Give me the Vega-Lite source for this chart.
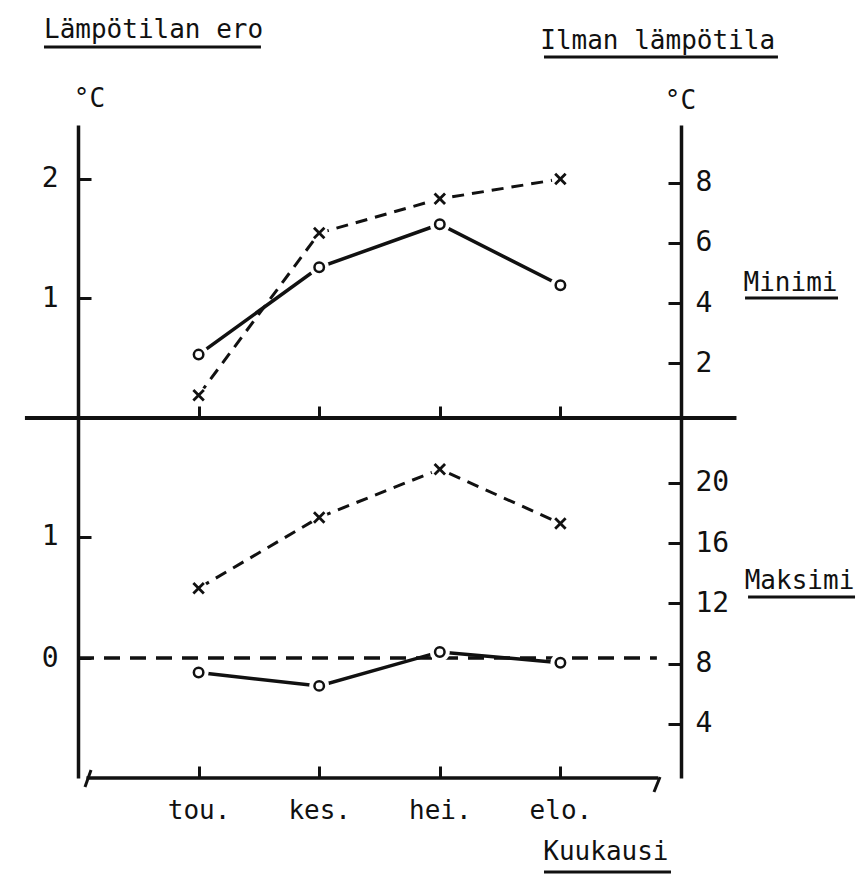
{
  "$schema": "https://vega.github.io/schema/vega-lite/v6.json",
  "background": "white",
  "padding": {"left": 22, "top": 17, "right": 5, "bottom": 0},
  "spacing": 0,
  "bounds": "flush",
  "config": {
    "view": {"stroke": null},
    "axis": {
      "grid": false,
      "domainColor": "#111",
      "domainWidth": 3.5,
      "tickColor": "#111",
      "tickWidth": 3,
      "tickSize": -13,
      "labelFont": "DejaVu Sans Mono",
      "labelFontSize": 28,
      "labelColor": "#111",
      "format": "d",
      "titleFont": "DejaVu Sans Mono",
      "titleFontSize": 26,
      "titleFontWeight": "normal",
      "titleColor": "#111"
    },
    "text": {"font": "DejaVu Sans Mono", "fontSize": 26, "color": "#111"}
  },
  "datasets": {
    "kuukaudet": [
      {"kk": 5, "kuukausi": "tou.", "min_ero": 0.53, "min_temp": 0.93, "max_ero": -0.12, "max_temp": 13.0},
      {"kk": 6, "kuukausi": "kes.", "min_ero": 1.26, "min_temp": 6.33, "max_ero": -0.23, "max_temp": 17.7},
      {"kk": 7, "kuukausi": "hei.", "min_ero": 1.62, "min_temp": 7.47, "max_ero": 0.05, "max_temp": 20.9},
      {"kk": 8, "kuukausi": "elo.", "min_ero": 1.11, "min_temp": 8.13, "max_ero": -0.04, "max_temp": 17.3}
    ]
  },
  "data": {"name": "kuukaudet"},
  "vconcat": [
    {
      "width": 603,
      "height": 293,
      "resolve": {"scale": {"y": "independent"}, "axis": {"y": "independent"}},
      "layer": [
        {
          "layer": [
            {
              "data": {"values": [{}]},
              "mark": {"type": "rule", "color": "#111", "strokeWidth": 4},
              "encoding": {
                "x": {"datum": 3.56, "type": "quantitative"},
                "x2": {"datum": 9.46},
                "y": {"datum": 0, "type": "quantitative"}
              }
            },
            {
              "mark": {"type": "line", "color": "#111", "strokeWidth": 3.5},
              "encoding": {
                "x": {"field": "kk", "type": "quantitative", "scale": {"domain": [4, 9], "nice": false, "zero": false},
                  "axis": {"orient": "bottom", "values": [5, 6, 7, 8], "domain": false, "labels": false, "tickSize": -12,
                    "title": "Minimi", "titleAngle": 0, "titleX": 712, "titleY": -136, "titleAlign": "center", "titleBaseline": "middle"}},
                "y": {"field": "min_ero", "type": "quantitative", "scale": {"domain": [0, 2.45], "nice": false, "zero": false},
                  "axis": {"orient": "left", "values": [1, 2], "labelPadding": 33,
                    "title": "°C", "titleAngle": 0, "titleX": 11, "titleY": -27, "titleAlign": "center", "titleBaseline": "middle"}}
              }
            },
            {
              "mark": {"type": "point", "shape": "circle", "filled": true, "color": "white", "opacity": 1, "size": 400},
              "encoding": {"x": {"field": "kk", "type": "quantitative"}, "y": {"field": "min_ero", "type": "quantitative"}}
            },
            {
              "mark": {"type": "point", "shape": "circle", "filled": false, "color": "#111", "strokeWidth": 2.5, "size": 90, "opacity": 1},
              "encoding": {"x": {"field": "kk", "type": "quantitative"}, "y": {"field": "min_ero", "type": "quantitative"}}
            },
            {
              "data": {"values": [{}]},
              "mark": {"type": "text", "align": "left", "baseline": "middle", "text": "Lämpötilan ero"},
              "encoding": {"x": {"datum": 3.718, "type": "quantitative"}, "y": {"datum": 3.244, "type": "quantitative"}}
            },
            {
              "data": {"values": [{}]},
              "mark": {"type": "rule", "color": "#111", "strokeWidth": 3},
              "encoding": {"x": {"datum": 3.718, "type": "quantitative"}, "x2": {"datum": 5.517}, "y": {"datum": 3.102, "type": "quantitative"}}
            },
            {
              "data": {"values": [{}]},
              "mark": {"type": "text", "align": "right", "baseline": "middle", "text": "Ilman lämpötila"},
              "encoding": {"x": {"datum": 9.78, "type": "quantitative"}, "y": {"datum": 3.152, "type": "quantitative"}}
            },
            {
              "data": {"values": [{}]},
              "mark": {"type": "rule", "color": "#111", "strokeWidth": 3},
              "encoding": {"x": {"datum": 7.864, "type": "quantitative"}, "x2": {"datum": 9.804}, "y": {"datum": 3.018, "type": "quantitative"}}
            },
            {
              "data": {"values": [{}]},
              "mark": {"type": "rule", "color": "#111", "strokeWidth": 3},
              "encoding": {"x": {"datum": 9.531, "type": "quantitative"}, "x2": {"datum": 10.302}, "y": {"datum": 1.003, "type": "quantitative"}}
            }
          ]
        },
        {
          "layer": [
            {
              "mark": {"type": "line", "color": "#111", "strokeWidth": 3, "strokeDash": [12, 8]},
              "encoding": {
                "x": {"field": "kk", "type": "quantitative"},
                "y": {"field": "min_temp", "type": "quantitative", "scale": {"domain": [0.17, 9.93], "nice": false, "zero": false},
                  "axis": {"orient": "right", "values": [2, 4, 6, 8], "labelPadding": 27,
                    "title": "°C", "titleAngle": 0, "titleX": -1, "titleY": -25, "titleAlign": "center", "titleBaseline": "middle"}}
              }
            },
            {
              "mark": {"type": "point", "shape": "circle", "filled": true, "color": "white", "opacity": 1, "size": 300},
              "encoding": {"x": {"field": "kk", "type": "quantitative"}, "y": {"field": "min_temp", "type": "quantitative"}}
            },
            {
              "mark": {"type": "point", "shape": "M-1,-1L1,1M1,-1L-1,1", "filled": false, "color": "#111", "strokeWidth": 2.8, "size": 110, "opacity": 1},
              "encoding": {"x": {"field": "kk", "type": "quantitative"}, "y": {"field": "min_temp", "type": "quantitative"}}
            }
          ]
        }
      ]
    },
    {
      "width": 603,
      "height": 360,
      "resolve": {"scale": {"y": "independent"}, "axis": {"y": "independent"}},
      "layer": [
        {
          "layer": [
            {
              "data": {"values": [{}]},
              "mark": {"type": "rule", "color": "#111", "strokeWidth": 3.5},
              "encoding": {"x": {"datum": 4.07, "type": "quantitative"}, "x2": {"datum": 8.81}, "y": {"datum": -0.99, "type": "quantitative"}}
            },
            {
              "data": {"values": [{}]},
              "mark": {"type": "rule", "color": "#111", "strokeWidth": 3},
              "encoding": {"x": {"datum": 4.108, "type": "quantitative"}, "x2": {"datum": 4.058}, "y": {"datum": -0.924, "type": "quantitative"}, "y2": {"datum": -1.064}}
            },
            {
              "data": {"values": [{}]},
              "mark": {"type": "rule", "color": "#111", "strokeWidth": 3},
              "encoding": {"x": {"datum": 8.826, "type": "quantitative"}, "x2": {"datum": 8.776}, "y": {"datum": -0.982, "type": "quantitative"}, "y2": {"datum": -1.106}}
            },
            {
              "data": {"values": [{}]},
              "mark": {"type": "rule", "color": "#111", "strokeWidth": 3.5, "strokeDash": [16, 10]},
              "encoding": {"x": {"datum": 4.0, "type": "quantitative"}, "x2": {"datum": 8.8}, "y": {"datum": 0, "type": "quantitative"}}
            },
            {
              "mark": {"type": "line", "color": "#111", "strokeWidth": 3.5},
              "encoding": {
                "x": {"field": "kk", "type": "quantitative", "scale": {"domain": [4, 9], "nice": false, "zero": false},
                  "axis": {"orient": "bottom", "values": [5, 6, 7, 8], "domain": false, "tickSize": -12, "labelPadding": 31,
                    "labelFontSize": 26,
                    "labelExpr": "datum.value == 5 ? 'tou.' : datum.value == 6 ? 'kes.' : datum.value == 7 ? 'hei.' : 'elo.'",
                    "title": "Kuukausi", "titleAngle": 0, "titleX": 590, "titleY": 73, "titleAlign": "right", "titleBaseline": "middle"}},
                "y": {"field": "max_ero", "type": "quantitative", "scale": {"domain": [-0.99, 1.98], "nice": false, "zero": false},
                  "axis": {"orient": "left", "values": [0, 1], "labelPadding": 33, "title": null}}
              }
            },
            {
              "mark": {"type": "point", "shape": "circle", "filled": true, "color": "white", "opacity": 1, "size": 400},
              "encoding": {"x": {"field": "kk", "type": "quantitative"}, "y": {"field": "max_ero", "type": "quantitative"}}
            },
            {
              "mark": {"type": "point", "shape": "circle", "filled": false, "color": "#111", "strokeWidth": 2.5, "size": 90, "opacity": 1},
              "encoding": {"x": {"field": "kk", "type": "quantitative"}, "y": {"field": "max_ero", "type": "quantitative"}}
            },
            {
              "data": {"values": [{}]},
              "mark": {"type": "rule", "color": "#111", "strokeWidth": 3},
              "encoding": {"x": {"datum": 9.556, "type": "quantitative"}, "x2": {"datum": 10.443}, "y": {"datum": 0.503, "type": "quantitative"}}
            },
            {
              "data": {"values": [{}]},
              "mark": {"type": "rule", "color": "#111", "strokeWidth": 3},
              "encoding": {"x": {"datum": 7.864, "type": "quantitative"}, "x2": {"datum": 8.917}, "y": {"datum": -1.766, "type": "quantitative"}}
            }
          ]
        },
        {
          "layer": [
            {
              "mark": {"type": "line", "color": "#111", "strokeWidth": 3, "strokeDash": [12, 8]},
              "encoding": {
                "x": {"field": "kk", "type": "quantitative"},
                "y": {"field": "max_temp", "type": "quantitative", "scale": {"domain": [0.4, 24.3], "nice": false, "zero": false},
                  "axis": {"orient": "right", "values": [4, 8, 12, 16, 20], "labelPadding": 27,
                    "title": "Maksimi", "titleAngle": 0, "titleX": 118, "titleY": 162, "titleAlign": "center", "titleBaseline": "middle"}}
              }
            },
            {
              "mark": {"type": "point", "shape": "circle", "filled": true, "color": "white", "opacity": 1, "size": 300},
              "encoding": {"x": {"field": "kk", "type": "quantitative"}, "y": {"field": "max_temp", "type": "quantitative"}}
            },
            {
              "mark": {"type": "point", "shape": "M-1,-1L1,1M1,-1L-1,1", "filled": false, "color": "#111", "strokeWidth": 2.8, "size": 110, "opacity": 1},
              "encoding": {"x": {"field": "kk", "type": "quantitative"}, "y": {"field": "max_temp", "type": "quantitative"}}
            }
          ]
        }
      ]
    }
  ]
}
